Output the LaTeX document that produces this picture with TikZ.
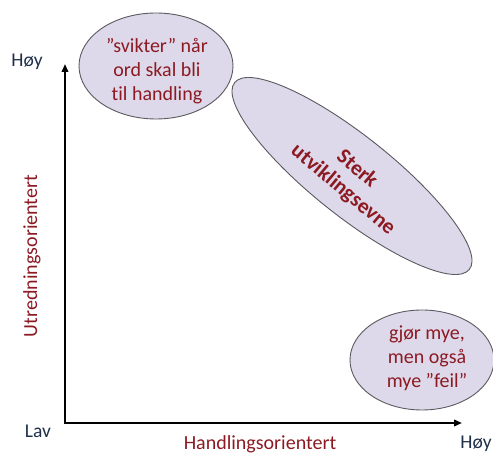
\documentclass[tikz,border=0pt]{standalone}
\usepackage{fontspec}
\setmainfont{Carlito}[Ligatures={NoCommon}]
\usetikzlibrary{shapes.geometric,arrows.meta}
\definecolor{txtred}{RGB}{140,26,34}
\definecolor{txtnavy}{RGB}{32,48,74}
\definecolor{bubfill}{RGB}{222,217,234}
\definecolor{bubline}{RGB}{90,90,95}
\tikzset{
  bubble/.style={ellipse, draw=bubline, fill=bubfill, line width=0.9pt, inner sep=0pt},
  axis/.style={line width=1.9pt, -{Triangle[length=8pt,width=6.5pt]}},
  redtxt/.style={text=txtred, align=center, font=\fontsize{20}{24}\selectfont},
  boldtxt/.style={text=txtred, font=\fontsize{21.5}{23}\selectfont\bfseries, rotate=-40},
  navytxt/.style={text=txtnavy, font=\fontsize{19.5}{22}\selectfont},
}
\begin{document}
\begin{tikzpicture}[x=1pt,y=1pt]
\useasboundingbox (0,0) rectangle (493,455);
% axes
\coordinate (o) at (65,32);
\coordinate (ytop) at (65,391);
\coordinate (xend) at (462,32);
\draw[axis] (o) -- (ytop);
\draw[axis] ([xshift=-0.95pt]o) -- (xend);
% bubbles
\node[bubble, minimum width=154pt, minimum height=106pt] (b1) at (156,389) {};
\node[bubble, minimum width=300pt, minimum height=80pt, rotate=-38.5] (b2) at (352,279) {};
\node[bubble, minimum width=144pt, minimum height=100pt] (b3) at (422,95) {};
% bubble texts
\node[redtxt] (t1) at (157,384) {”svikter” når\\ord skal bli\\til handling};
\node[boldtxt] (t2a) at (358,287) {Sterk};
\node[boldtxt] (t2b) at (343,265) {utviklingsevne};
\node[redtxt] (t3) at (427,97) {gjør mye,\\men også\\mye ”feil”};
% axis labels
\node[navytxt] (hoy1) at (27,393) {Høy};
\node[navytxt] (lav) at (38,24) {Lav};
\node[navytxt] (hoy2) at (476,11) {Høy};
\node[redtxt] (xl) at (260,11) {Handlingsorientert};
\node[redtxt, rotate=90] (yl) at (32,199) {Utredningsorientert};
\end{tikzpicture}
\end{document}
